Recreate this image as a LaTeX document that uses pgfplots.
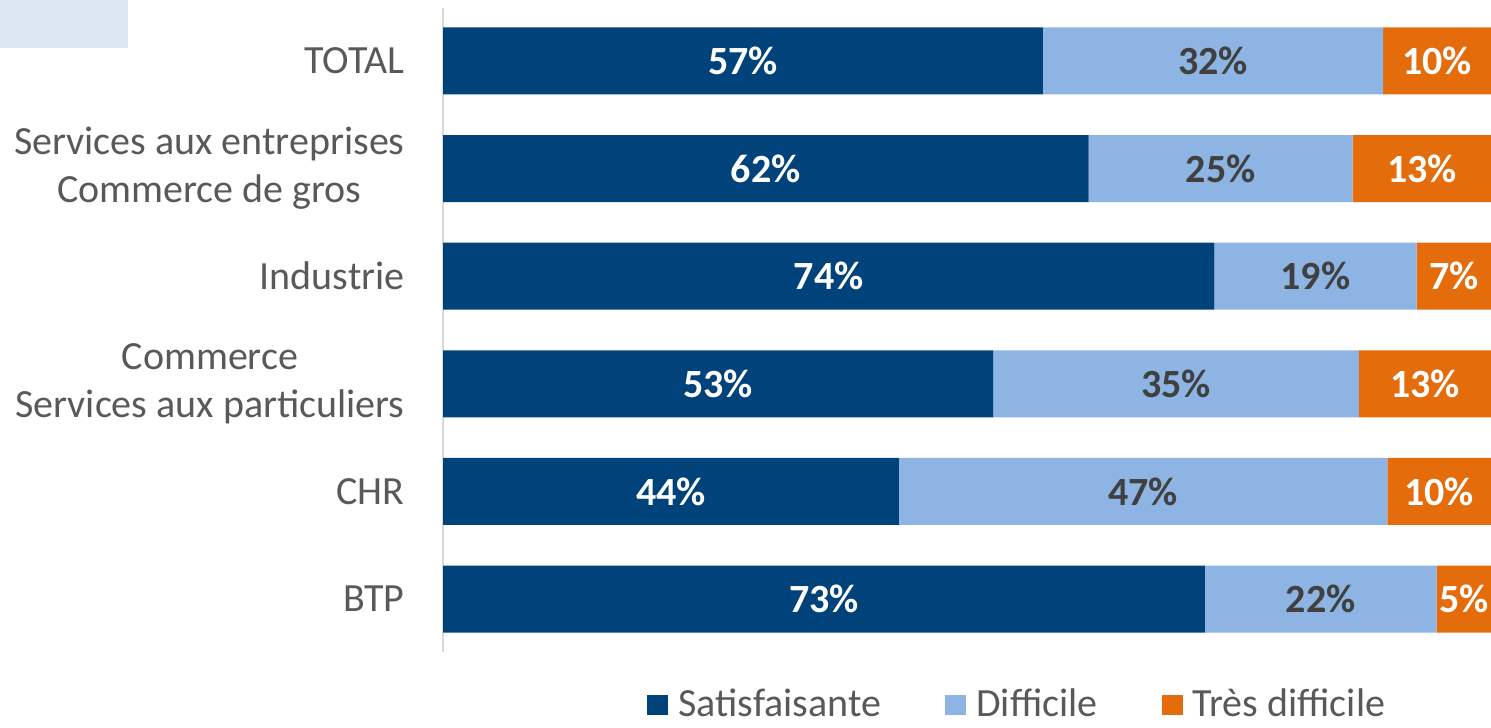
\documentclass[border=0pt]{standalone}
\usepackage{pgfplots}
\pgfplotsset{compat=1.18}
\usepackage{fontspec}
\setmainfont{Carlito}
\definecolor{cDark}{HTML}{00427A}
\definecolor{cLight}{HTML}{8DB4E2}
\definecolor{cOrange}{HTML}{E46C0A}
\definecolor{cText}{HTML}{595959}
\definecolor{cLab}{HTML}{404040}
\definecolor{cRect}{HTML}{DCE6F2}
\definecolor{cAxis}{HTML}{D9D9D9}
\newcommand{\cfont}{\fontsize{20}{24}\selectfont}
\begin{document}
\begin{tikzpicture}
\path[use as bounding box] (0,0) rectangle (745.5pt,-363.5pt);
\fill[cRect] (0,0) rectangle (64pt,-24pt);
\pgfplotsset{base/.style={
  scale only axis, width=524pt, height=322pt,
  at={(221.5pt,-326pt)}, anchor=south west,
  xmin=0, xmax=100, ymin=-0.4925, ymax=5.4925,
}}
\begin{axis}[base, xbar stacked, bar width=33.5pt,
  axis x line=none, axis y line*=left,
  y axis line style={draw=cAxis, line width=0.8pt},
  ytick={0,1,2,3,4,5}, ytick style={draw=none},
  yticklabels={BTP, CHR, {Commerce\\Services aux particuliers}, Industrie, {Services aux entreprises\\Commerce de gros}, TOTAL},
  yticklabel style={align=center, font=\cfont, text=cText, inner sep=0pt, xshift=-19pt},
  legend columns=3,
  legend style={at={(0.548,-0.081)}, anchor=center, draw=none, fill=none, font=\cfont, text=cText,
    inner sep=0pt, nodes={inner sep=1pt},
    /tikz/every odd column/.append style={column sep=4pt},
    /tikz/every even column/.append style={column sep=31pt}},
  legend image code/.code={\fill[#1] (0pt,-5.5pt) rectangle (10.5pt,4.5pt);},
]
\addplot[fill=cDark, draw=none] coordinates {(72.7,0) (43.5,1) (52.5,2) (73.6,3) (61.6,4) (57.25,5)};
\addplot[fill=cLight, draw=none] coordinates {(22.1,0) (46.6,1) (34.9,2) (19.3,3) (25.2,4) (32.45,5)};
\addplot[fill=cOrange, draw=none] coordinates {(5.2,0) (9.9,1) (12.6,2) (7.1,3) (13.2,4) (10.3,5)};
\legend{Satisfaisante, Difficile, Très difficile}
\end{axis}
\begin{axis}[base, hide axis, clip=false]
\addplot[draw=none, mark=none, nodes near coords, point meta=explicit symbolic,
  every node near coord/.append style={anchor=center, text=white, font=\cfont\bfseries}]
  coordinates {(36.35,0) [73\%] (21.75,1) [44\%] (26.25,2) [53\%] (36.8,3) [74\%] (30.8,4) [62\%] (28.63,5) [57\%]};
\addplot[draw=none, mark=none, nodes near coords, point meta=explicit symbolic,
  every node near coord/.append style={anchor=center, text=cLab, font=\cfont\bfseries}]
  coordinates {(83.75,0) [22\%] (66.8,1) [47\%] (69.95,2) [35\%] (83.25,3) [19\%] (74.2,4) [25\%] (73.48,5) [32\%]};
\addplot[draw=none, mark=none, nodes near coords, point meta=explicit symbolic,
  every node near coord/.append style={anchor=center, text=white, font=\cfont\bfseries}]
  coordinates {(97.4,0) [5\%] (95.05,1) [10\%] (93.7,2) [13\%] (96.45,3) [7\%] (93.4,4) [13\%] (94.85,5) [10\%]};
\end{axis}
\end{tikzpicture}
\end{document}
